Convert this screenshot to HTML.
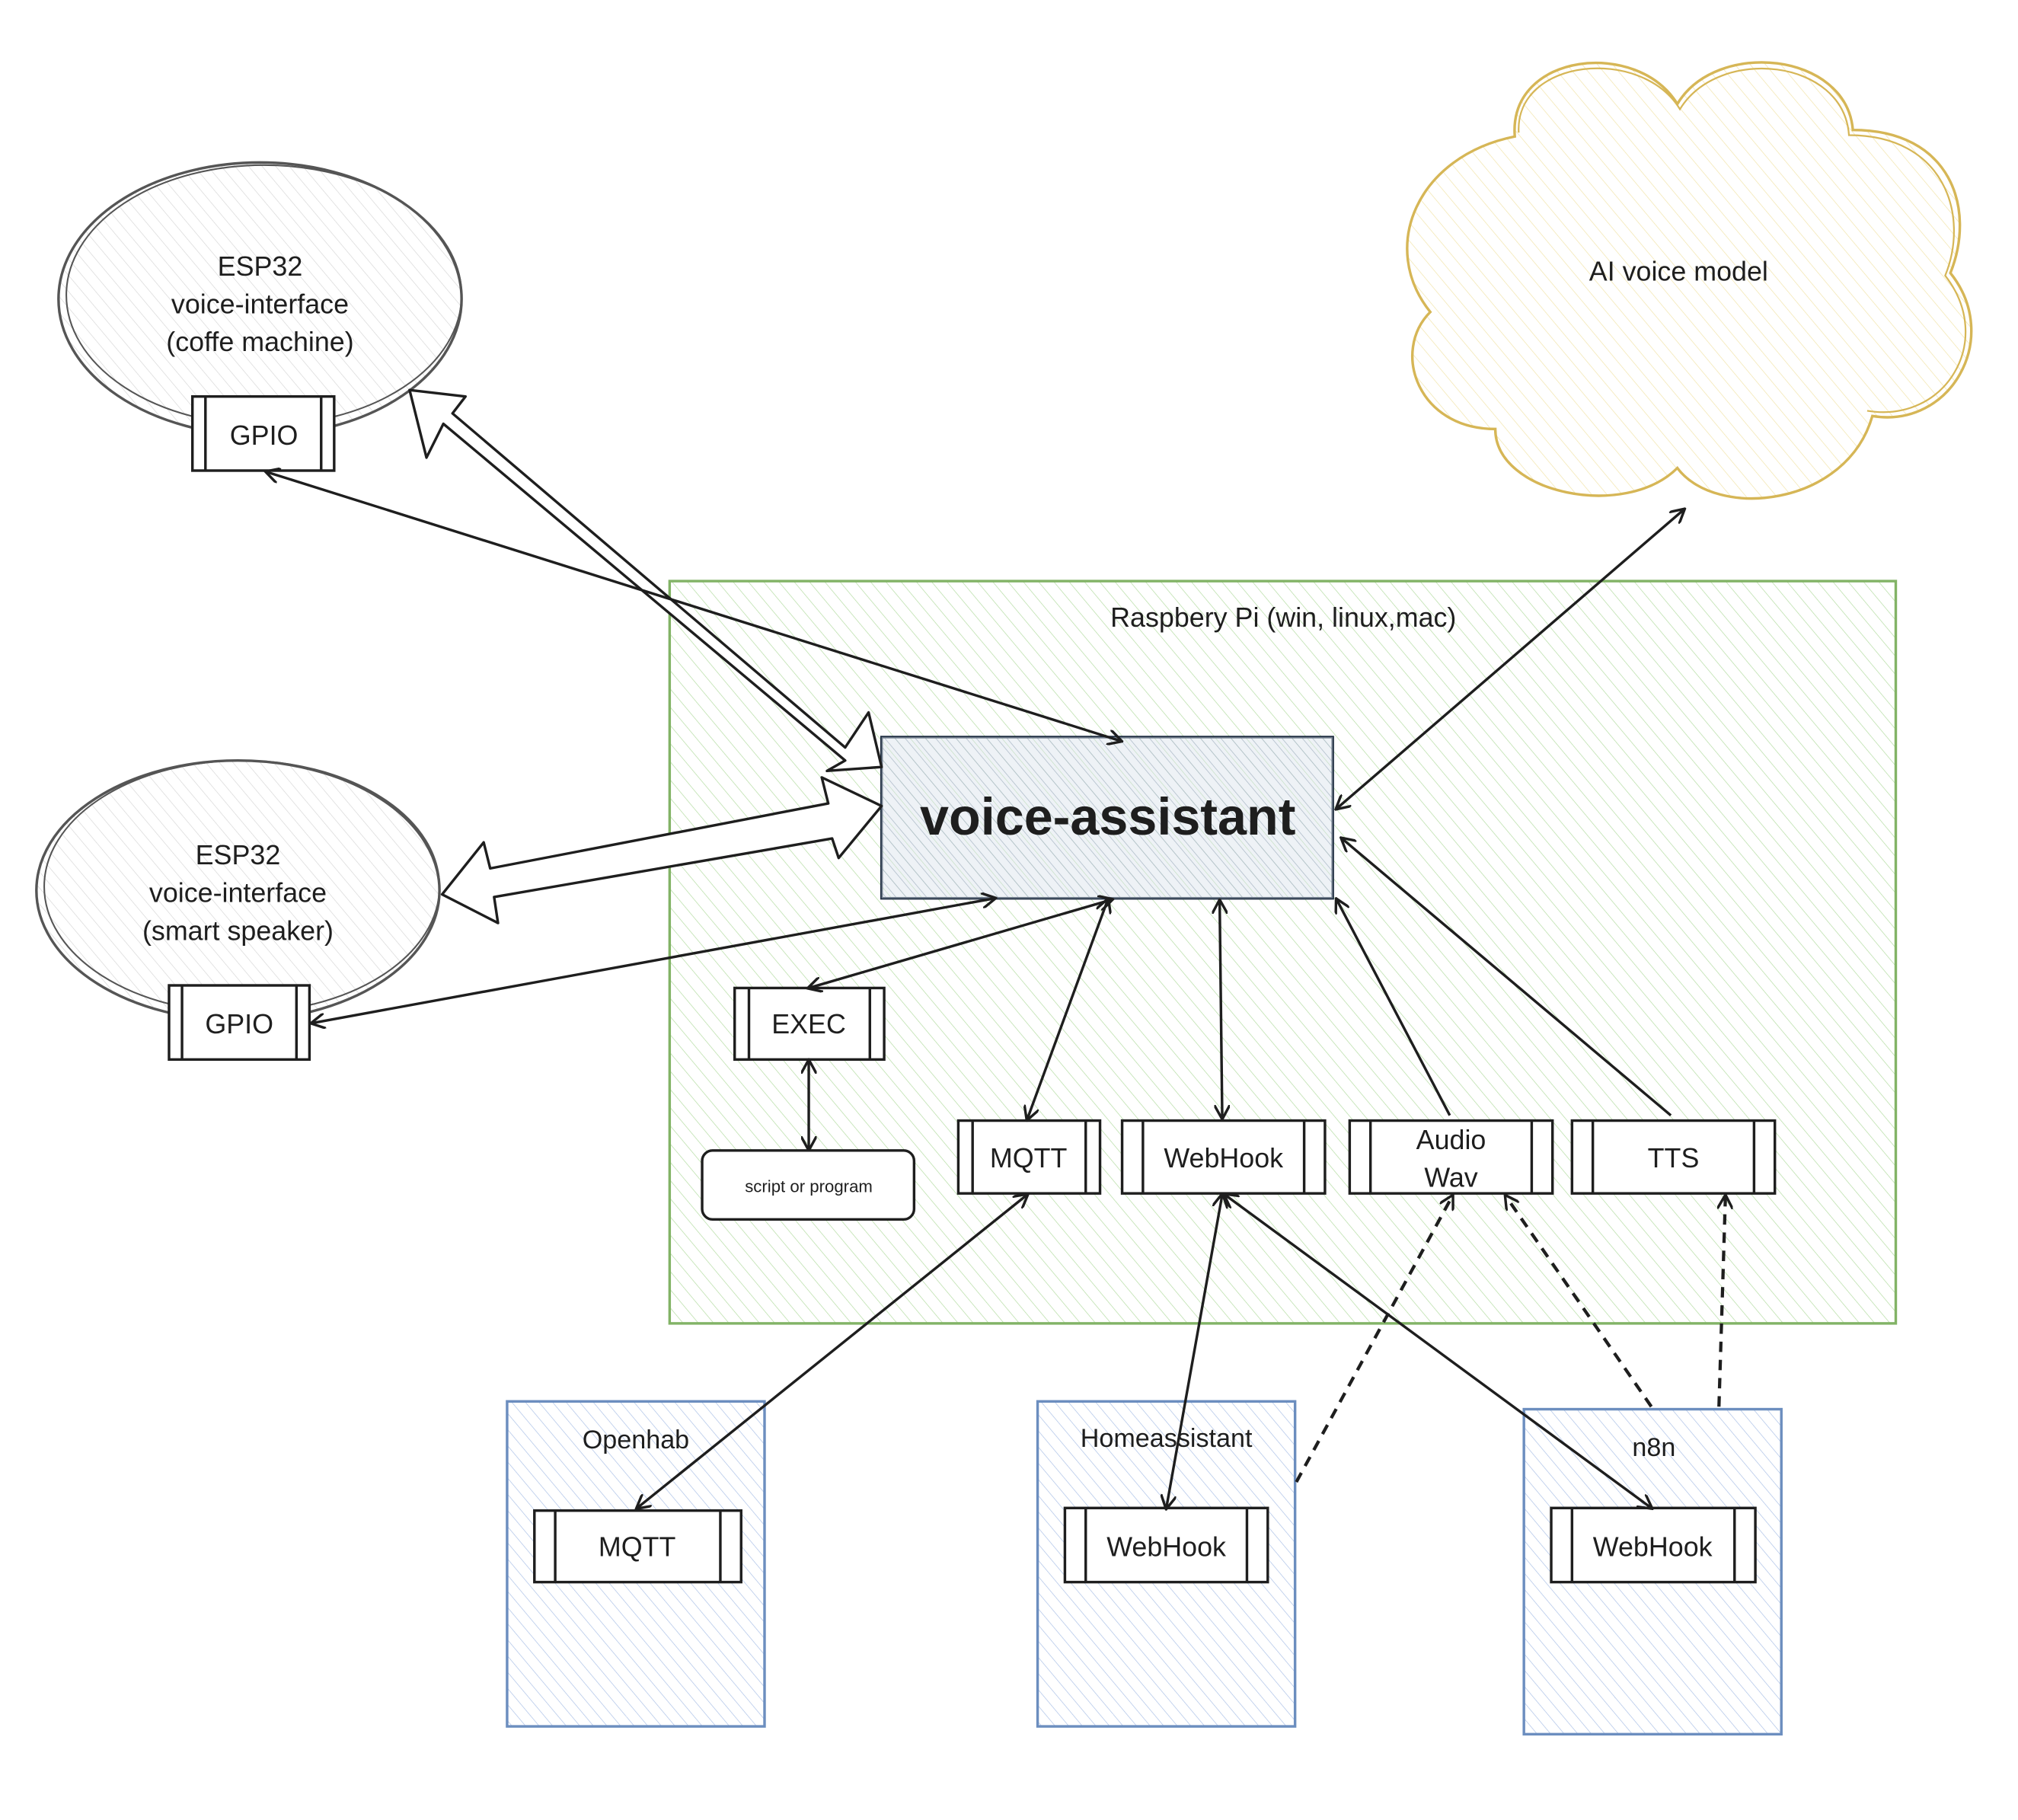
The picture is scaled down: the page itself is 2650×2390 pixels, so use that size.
<!DOCTYPE html>
<html><head><meta charset="utf-8"><style>
html,body{margin:0;padding:0;background:#fff;}
svg{display:block;}
text{font-family:"Liberation Sans",sans-serif;fill:#1e1e1e;text-anchor:middle;}
</style></head><body>
<svg width="2650" height="2390" viewBox="0 0 1552 1400" preserveAspectRatio="none" xmlns="http://www.w3.org/2000/svg">
<defs>
<pattern id="hg" width="9" height="9" patternUnits="userSpaceOnUse" patternTransform="rotate(-40)">
<line x1="0" y1="0" x2="0" y2="9" stroke="#b2dba0" stroke-width="0.8"/></pattern>
<pattern id="hb" width="8" height="8" patternUnits="userSpaceOnUse" patternTransform="rotate(-40)">
<line x1="0" y1="0" x2="0" y2="8" stroke="#a9bfe6" stroke-width="0.8"/></pattern>
<pattern id="hv" width="6" height="6" patternUnits="userSpaceOnUse" patternTransform="rotate(-40)">
<line x1="0" y1="0" x2="0" y2="6" stroke="#8a9bac" stroke-width="0.9"/></pattern>
<pattern id="hy" width="9" height="9" patternUnits="userSpaceOnUse" patternTransform="rotate(-40)">
<line x1="0" y1="0" x2="0" y2="9" stroke="#f1e3a8" stroke-width="0.8"/></pattern>
<pattern id="hgr" width="8" height="8" patternUnits="userSpaceOnUse" patternTransform="rotate(-40)">
<line x1="0" y1="0" x2="0" y2="8" stroke="#d6d6d6" stroke-width="0.8"/></pattern>
<marker id="a" markerWidth="12" markerHeight="12" refX="10" refY="6" orient="auto-start-reverse" markerUnits="userSpaceOnUse">
<path d="M0,0 L11,6 L0,12" fill="none" stroke="#1e1e1e" stroke-width="2"/></marker>
</defs>

<path d="M1165,105 C1160,40 1260,30 1290,80 C1320,30 1420,40 1425,100 C1500,100 1520,160 1500,210 C1540,260 1500,330 1440,320 C1420,390 1320,400 1290,360 C1250,400 1150,380 1150,330 C1090,330 1070,270 1100,240 C1060,190 1090,120 1165,105 Z" fill="url(#hy)" stroke="#d6b656" stroke-width="2"/>
<path d="M1168,102 C1165,45 1262,35 1292,84 C1322,35 1418,45 1422,104 C1495,104 1515,165 1496,212 C1535,262 1496,326 1436,316" fill="none" stroke="#d6b656" stroke-width="1.3"/>
<text x="1291" y="216" font-size="21">AI voice model</text>

<rect x="515" y="447" width="943" height="571" fill="url(#hg)" stroke="#82b366" stroke-width="2"/>
<text x="987" y="482" font-size="21">Raspbery Pi (win, linux,mac)</text>

<ellipse cx="200" cy="230" rx="155" ry="105" fill="url(#hgr)" stroke="#555" stroke-width="2"/>
<ellipse cx="203" cy="227" rx="152" ry="100" fill="none" stroke="#555" stroke-width="1.2"/>
<text font-size="21"><tspan x="200" y="212">ESP32</tspan><tspan x="200" y="241">voice-interface</tspan><tspan x="200" y="270">(coffe machine)</tspan></text>
<ellipse cx="183" cy="685" rx="155" ry="100" fill="url(#hgr)" stroke="#555" stroke-width="2"/>
<ellipse cx="186" cy="682" rx="152" ry="97" fill="none" stroke="#555" stroke-width="1.2"/>
<text font-size="21"><tspan x="183" y="665">ESP32</tspan><tspan x="183" y="694">voice-interface</tspan><tspan x="183" y="723">(smart speaker)</tspan></text>

<rect x="390" y="1078" width="198" height="250" fill="url(#hb)" stroke="#6c8ebf" stroke-width="2"/>
<text x="489" y="1114" font-size="20">Openhab</text>
<rect x="798" y="1078" width="198" height="250" fill="url(#hb)" stroke="#6c8ebf" stroke-width="2"/>
<text x="897" y="1113" font-size="20">Homeassistant</text>
<rect x="1172" y="1084" width="198" height="250" fill="url(#hb)" stroke="#6c8ebf" stroke-width="2"/>
<text x="1272" y="1120" font-size="20">n8n</text>

<rect x="678" y="567" width="347" height="124" fill="url(#hv)" stroke="#1e2d40" stroke-width="2"/>
<rect x="678" y="567" width="347" height="124" fill="#dae3ec" opacity="0.45"/>
<text x="852" y="642" font-size="40" font-weight="bold">voice-assistant</text>

<g fill="#fff" stroke="#1e1e1e" stroke-width="2">
<rect x="148" y="305" width="109" height="57"/><line x1="158" y1="305" x2="158" y2="362"/><line x1="247" y1="305" x2="247" y2="362"/>
<rect x="130" y="758" width="108" height="57"/><line x1="140" y1="758" x2="140" y2="815"/><line x1="228" y1="758" x2="228" y2="815"/>
<rect x="565" y="760" width="115" height="55"/><line x1="576" y1="760" x2="576" y2="815"/><line x1="669" y1="760" x2="669" y2="815"/>
<rect x="540" y="885" width="163" height="53" rx="8"/>
<rect x="737" y="862" width="109" height="56"/><line x1="748" y1="862" x2="748" y2="918"/><line x1="835" y1="862" x2="835" y2="918"/>
<rect x="863" y="862" width="156" height="56"/><line x1="879" y1="862" x2="879" y2="918"/><line x1="1003" y1="862" x2="1003" y2="918"/>
<rect x="1038" y="862" width="156" height="56"/><line x1="1054" y1="862" x2="1054" y2="918"/><line x1="1178" y1="862" x2="1178" y2="918"/>
<rect x="1209" y="862" width="156" height="56"/><line x1="1225" y1="862" x2="1225" y2="918"/><line x1="1349" y1="862" x2="1349" y2="918"/>
<rect x="411" y="1162" width="159" height="55"/><line x1="427" y1="1162" x2="427" y2="1217"/><line x1="554" y1="1162" x2="554" y2="1217"/>
<rect x="819" y="1160" width="156" height="57"/><line x1="835" y1="1160" x2="835" y2="1217"/><line x1="959" y1="1160" x2="959" y2="1217"/>
<rect x="1193" y="1160" width="157" height="57"/><line x1="1209" y1="1160" x2="1209" y2="1217"/><line x1="1334" y1="1160" x2="1334" y2="1217"/>
</g>
<g font-size="21">
<text x="203" y="342">GPIO</text>
<text x="184" y="795">GPIO</text>
<text x="622" y="795">EXEC</text>
<text x="622" y="917" font-size="13">script or program</text>
<text x="791" y="898">MQTT</text>
<text x="941" y="898">WebHook</text>
<text x="1116" y="884">Audio</text><text x="1116" y="913">Wav</text>
<text x="1287" y="898">TTS</text>
<text x="490" y="1197">MQTT</text>
<text x="897" y="1197">WebHook</text>
<text x="1271" y="1197">WebHook</text>
</g>

<path d="M315,300 L358,305 L348,318 L650,575 L668,548 L678,590 L636,593 L650,585 L341,326 L328,352 Z" fill="#fff" stroke="#1e1e1e" stroke-width="2" stroke-linejoin="round"/>
<path d="M678,620 L645,660 L640,645 L380,690 L383,710 L340,688 L372,648 L377,668 L637,618 L632,598 Z" fill="#fff" stroke="#1e1e1e" stroke-width="2" stroke-linejoin="round"/>

<g stroke="#1e1e1e" stroke-width="2" fill="none" marker-start="url(#a)" marker-end="url(#a)">
<line x1="205" y1="363" x2="862" y2="570"/>
<line x1="240" y1="787" x2="765" y2="691"/>
<line x1="622" y1="760" x2="855" y2="692"/>
<line x1="790" y1="861" x2="852" y2="692"/>
<line x1="940" y1="860" x2="938" y2="693"/>
<line x1="1295" y1="392" x2="1028" y2="622"/>
<line x1="622" y1="816" x2="622" y2="884"/>
<line x1="490" y1="1160" x2="790" y2="919"/>
<line x1="897" y1="1160" x2="940" y2="919"/>
<line x1="1270" y1="1160" x2="942" y2="919"/>
</g>
<g stroke="#1e1e1e" stroke-width="2" fill="none" marker-end="url(#a)">
<line x1="1115" y1="858" x2="1028" y2="692"/>
<line x1="1285" y1="858" x2="1032" y2="645"/>
</g>
<g stroke="#1e1e1e" stroke-width="2.5" fill="none" stroke-dasharray="8,6" marker-end="url(#a)">
<line x1="997" y1="1140" x2="1117" y2="920"/>
<line x1="1270" y1="1082" x2="1158" y2="920"/>
<line x1="1322" y1="1082" x2="1327" y2="920"/>
</g>
</svg>
</body></html>
